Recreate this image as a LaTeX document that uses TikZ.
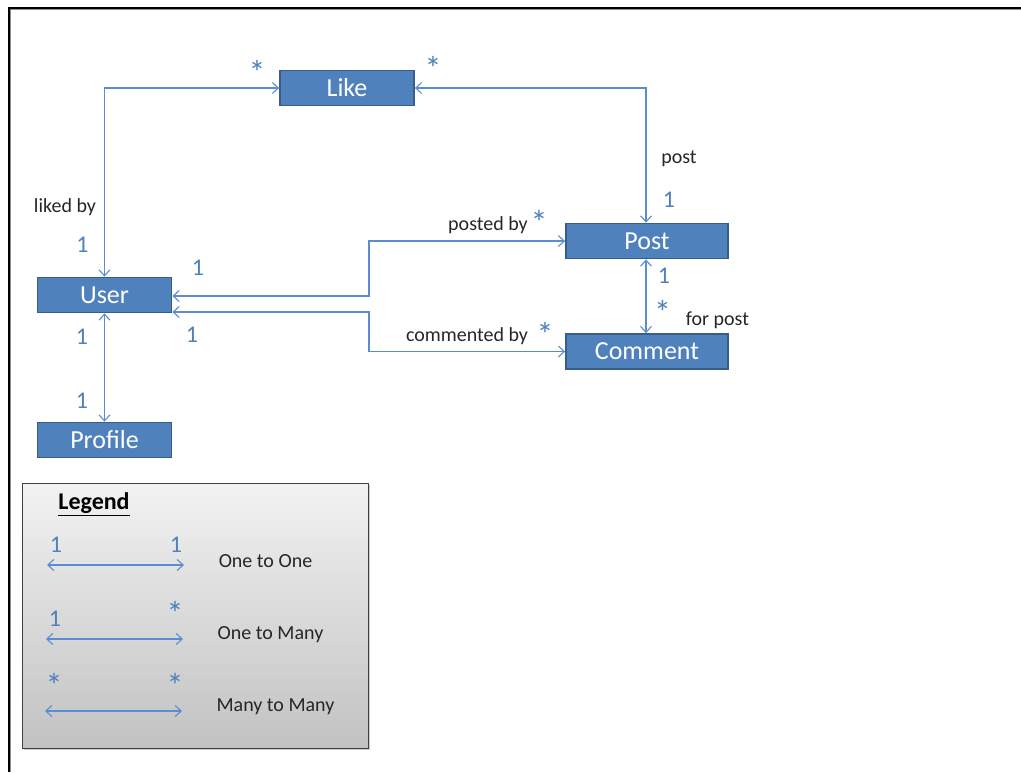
\documentclass[tikz,border=0pt]{standalone}
\usepackage{fontspec}
\setmainfont{Carlito}
\usetikzlibrary{arrows.meta,shadows}
\definecolor{boxfill}{HTML}{4F81BD}
\definecolor{boxborder}{HTML}{385D8A}
\definecolor{linecol}{HTML}{5B8BD0}
\definecolor{multcol}{HTML}{4F81BD}
\tikzset{
  x=1pt, y=-1pt,
  ent/.style={draw=boxborder, fill=boxfill, line width=1.8pt, text=white,
    font=\fontsize{26}{28}\selectfont, minimum width=134pt, minimum height=35pt, inner sep=0pt},
  conn/.style={draw=linecol, line width=1.1pt, {Straight Barb[length=6pt,width=11pt]}-{Straight Barb[length=6pt,width=11pt]}},
  mult/.style={text=multcol, font=\fontsize{24}{26}\selectfont, inner sep=0pt},
  many/.style={text=multcol, font=\fontsize{34}{36}\selectfont, inner sep=0pt},
  lab/.style={text=black!85, font=\fontsize{20}{22}\selectfont, inner sep=0pt},
  legendbox/.style={draw=black!75, line width=0.8pt, top color=black!5, bottom color=black!24,
    drop shadow={shadow xshift=2pt, shadow yshift=-2pt, opacity=0.4},
    minimum width=346pt, minimum height=265pt, inner sep=0pt}
}
\begin{document}
\begin{tikzpicture}
\useasboundingbox (0,0) rectangle (1021,772);
% frame
\draw[black!45, line width=1pt] (10.5,772) -- (10.5,9.5) -- (1021,9.5);
\draw[black, line width=1.3pt] (9,772) -- (9,8) -- (1021,8);

% legend
\node[legendbox] (legend) at (195,615.5) {};
\node[font=\fontsize{24}{26}\selectfont\bfseries, inner sep=0pt] (legtitle) at (94,504) {\underline{Legend}};

% entities
\node[ent] (like) at (347,88) {Like};
\node[ent, minimum width=162pt] (post) at (647,241) {Post};
\node[ent] (user) at (104.5,295) {User};
\node[ent, minimum width=162pt] (comment) at (647,351.5) {Comment};
\node[ent] (profile) at (104.5,440) {Profile};

\coordinate (j1) at (369,0);

% connectors
\draw[conn] (user.north) |- (like.west);
\draw[conn] (like.east) -| ([xshift=-1pt]post.north);
\draw[conn] ([yshift=-1pt]user.east) -- ([yshift=-1pt]user.east -| j1) |- (post.west);
\draw[conn] ([yshift=-17pt]user.east) -- ([yshift=-17pt]user.east -| j1) |- (comment.west);
\draw[conn] ([xshift=-1pt]post.south) -- ([xshift=-1pt]comment.north);
\draw[conn] (user.south) -- (profile.north);

% multiplicities and labels
\node[many] (m1) at (257,72) {*};
\node[many] (m2) at (433,68) {*};
\node[lab] (l1) at (679,159) {post};
\node[mult] (m3) at (669,200) {1};
\node[lab] (l2) at (65,207) {liked by};
\node[mult] (m4) at (82.5,245) {1};
\node[mult] (m5) at (198,268) {1};
\node[lab] (l3) at (488,225) {posted by};
\node[many] (m6) at (539,222) {*};
\node[mult] (m7) at (664,276) {1};
\node[many] (m8) at (662.5,312) {*};
\node[lab] (l4) at (717.5,320) {for post};
\node[lab] (l5) at (467,336) {commented by};
\node[many] (m9) at (545,334) {*};
\node[mult] (m10) at (82,337) {1};
\node[mult] (m11) at (192,335) {1};
\node[mult] (m12) at (82,401) {1};

% legend rows
\coordinate (a1) at (47,565); \coordinate (b1) at (184,565);
\coordinate (a2) at (46,639); \coordinate (b2) at (183,639);
\coordinate (a3) at (45,711); \coordinate (b3) at (182,711);
\draw[conn] (a1) -- (b1);
\draw[conn] (a2) -- (b2);
\draw[conn] (a3) -- (b3);
\node[mult] (r1a) at (56,545) {1};
\node[mult] (r1b) at (176,545) {1};
\node[lab] (r1t) at (265.5,561) {One to One};
\node[mult] (r2a) at (55,619) {1};
\node[many] (r2b) at (175,613) {*};
\node[lab] (r2t) at (270.5,635) {One to Many};
\node[many] (r3a) at (54,685) {*};
\node[many] (r3b) at (175,685) {*};
\node[lab] (r3t) at (275.5,707) {Many to Many};
\end{tikzpicture}
\end{document}
